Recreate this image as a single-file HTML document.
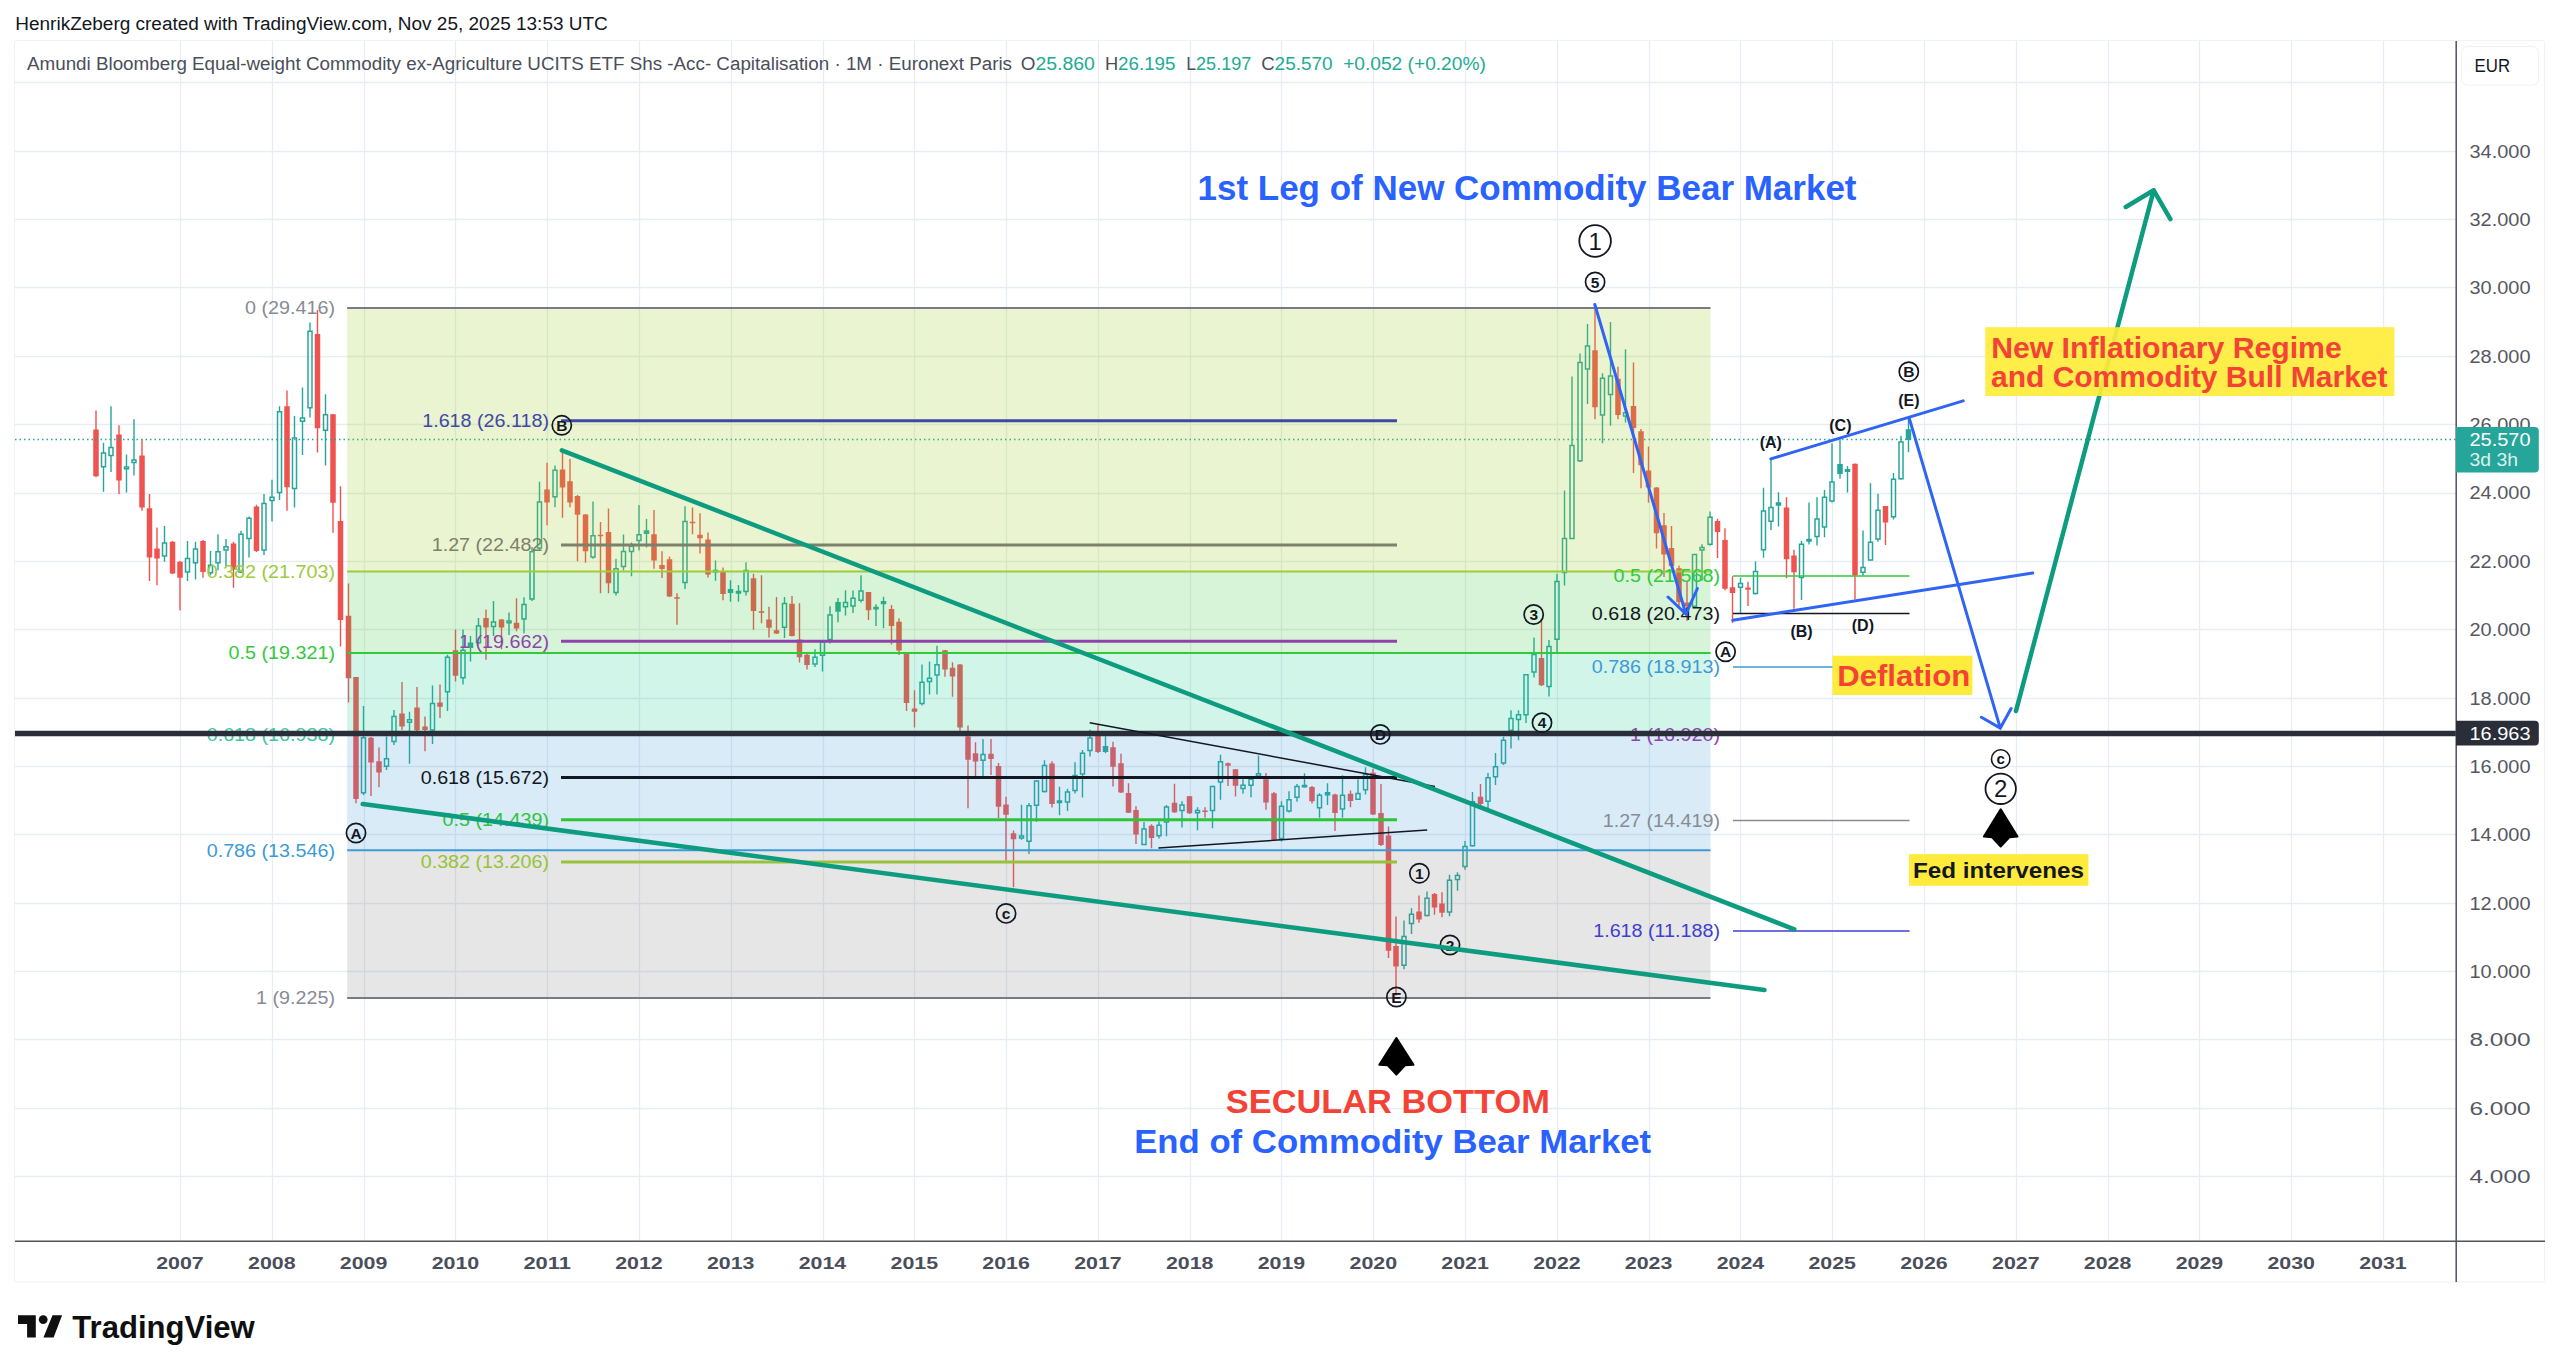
<!DOCTYPE html>
<html><head><meta charset="utf-8"><title>TradingView chart</title>
<style>
html,body{margin:0;padding:0;background:#ffffff;}
body{width:2560px;height:1372px;overflow:hidden;position:relative;font-family:"Liberation Sans", sans-serif;}
svg{position:absolute;left:0;top:0;display:block;}
text{font-family:"Liberation Sans", sans-serif;}
</style></head><body>
<svg width="2560" height="1372" viewBox="0 0 2560 1372">
<text x="15.3" y="30.0" font-size="18" fill="#131722" textLength="592.5" lengthAdjust="spacingAndGlyphs">HenrikZeberg created with TradingView.com, Nov 25, 2025 13:53 UTC</text>
<rect x="14.5" y="40.5" width="2530" height="1241.5" rx="2" fill="#ffffff" stroke="#f0f2f5" stroke-width="1"/>
<path d="M180.5 41V1241M272.5 41V1241M364.5 41V1241M455.5 41V1241M547.5 41V1241M639.5 41V1241M731.5 41V1241M823.5 41V1241M914.5 41V1241M1006.5 41V1241M1098.5 41V1241M1190.5 41V1241M1281.5 41V1241M1373.5 41V1241M1465.5 41V1241M1557.5 41V1241M1649.5 41V1241M1740.5 41V1241M1832.5 41V1241M1924.5 41V1241M2016.5 41V1241M2108.5 41V1241M2199.5 41V1241M2291.5 41V1241M2383.5 41V1241M15 82.5H2456M15 151.5H2456M15 219.5H2456M15 287.5H2456M15 356.5H2456M15 424.5H2456M15 493.5H2456M15 561.5H2456M15 629.5H2456M15 698.5H2456M15 766.5H2456M15 834.5H2456M15 903.5H2456M15 971.5H2456M15 1039.5H2456M15 1108.5H2456M15 1176.5H2456" stroke="#e6edf4" stroke-width="1.3" fill="none"/>
<path d="M96.0 410.5V477.2M119.0 425.2V493.9M142.0 439.5V510.7M149.5 494.0V581.1M157.0 527.5V585.3M172.5 541.0V574.0M180.0 561.0V610.5M203.0 540.0V577.8M233.5 541.7V587.8M256.5 504.8V552.0M287.0 390.4V510.8M317.5 309.9V452.6M333.0 414.0V532.8M340.5 486.2V646.5M348.5 583.6V702.5M356.0 677.0V803.3M371.0 737.0V795.9M379.0 747.6V787.2M402.0 682.0V730.0M417.0 687.0V732.0M425.0 716.6V751.3M440.0 684.4V717.9M455.5 629.4V681.5M486.0 609.5V659.7M501.5 619.0V649.3M516.5 598.2V631.3M547.0 462.7V525.2M562.5 451.4V517.7M570.0 459.0V507.2M577.5 495.0V561.2M585.5 513.9V562.8M600.5 522.0V593.2M608.5 508.6V593.2M654.0 510.1V568.7M662.0 551.2V578.0M669.5 556.4V597.0M677.0 593.2V624.7M692.5 507.4V534.3M700.0 513.3V553.5M708.0 532.5V577.4M723.0 567.6V600.2M753.5 573.7V629.8M761.5 575.2V623.2M769.0 606.8V637.4M776.5 597.1V634.0M792.0 596.0V636.5M799.5 603.3V662.4M807.0 654.0V669.6M868.5 592.0V620.1M891.5 604.9V644.6M899.0 618.3V655.1M906.5 653.0V711.1M914.5 690.3V727.4M945.0 650.0V676.8M952.5 662.2V696.8M960.0 664.0V730.7M968.0 725.4V808.2M975.5 742.3V776.0M991.0 738.9V774.9M998.5 763.1V818.1M1006.0 796.8V860.7M1013.5 830.4V887.2M1052.0 761.2V807.6M1098.0 724.8V753.0M1113.0 741.7V786.5M1121.0 753.7V793.0M1128.5 783.2V813.0M1136.0 806.2V843.9M1151.5 824.2V848.3M1174.5 783.8V813.0M1189.5 796.0V814.0M1205.0 807.3V817.7M1228.0 762.5V786.1M1235.5 769.0V796.5M1266.0 772.9V809.8M1274.0 792.0V840.0M1312.0 786.1V803.4M1335.0 793.7V831.0M1350.5 790.5V807.3M1373.0 768.8V815.0M1381.0 784.0V846.0M1388.5 826.5V958.0M1396.0 916.4V995.8M1419.0 895.5V922.8M1434.5 893.0V914.7M1442.0 892.3V917.2M1480.5 784.0V806.0M1541.5 621.0V686.0M1595.0 304.4V419.3M1618.0 366.7V419.3M1633.5 362.4V472.9M1641.0 429.1V488.2M1648.5 446.6V502.7M1656.5 487.0V548.6M1664.0 512.9V577.1M1671.5 526.0V567.0M1679.0 565.4V607.7M1687.0 581.4V620.8M1717.5 518.7V558.1M1725.0 528.2V590.2M1732.5 576.3V623.0M1748.0 581.8V605.9M1786.5 497.3V578.2M1794.0 549.7V608.8M1855.0 463.5V599.5M1885.5 506.0V545.0" stroke="#ef5350" stroke-width="1.4" fill="none"/>
<path d="M93.25 429.4h5.5v46.9h-5.5zM116.25 434.4h5.5v46.1h-5.5zM139.25 455.4h5.5v52.0h-5.5zM146.75 508.2h5.5v49.4h-5.5zM154.25 548.4h5.5v10.1h-5.5zM169.75 541.7h5.5v31.9h-5.5zM177.25 561.8h5.5v16.0h-5.5zM200.25 540.9h5.5v31.0h-5.5zM230.75 543.4h5.5v26.0h-5.5zM253.75 506.5h5.5v44.4h-5.5zM284.25 406.2h5.5v81.1h-5.5zM314.75 334.1h5.5v94.2h-5.5zM330.25 414.3h5.5v88.5h-5.5zM337.75 520.9h5.5v99.1h-5.5zM345.75 615.8h5.5v62.4h-5.5zM353.25 677.0h5.5v122.1h-5.5zM368.25 737.7h5.5v24.8h-5.5zM376.25 761.2h5.5v11.2h-5.5zM399.25 713.4h5.5v13.1h-5.5zM414.25 707.5h5.5v22.7h-5.5zM422.25 726.5h5.5v3.5h-5.5zM437.25 702.5h5.5v4.2h-5.5zM452.75 650.3h5.5v25.5h-5.5zM483.25 618.0h5.5v9.5h-5.5zM498.75 619.6h5.5v7.9h-5.5zM513.75 622.8h5.5v5.7h-5.5zM544.25 489.6h5.5v12.9h-5.5zM559.75 469.4h5.5v18.0h-5.5zM567.25 481.3h5.5v21.2h-5.5zM574.75 495.9h5.5v18.9h-5.5zM582.75 514.4h5.5v36.8h-5.5zM597.75 534.8h5.5v1.5h-5.5zM605.75 531.9h5.5v51.4h-5.5zM651.25 534.3h5.5v26.2h-5.5zM659.25 564.9h5.5v4.0h-5.5zM666.75 559.3h5.5v37.1h-5.5zM674.25 597.3h5.5v1.5h-5.5zM689.75 521.8h5.5v1.5h-5.5zM697.25 534.8h5.5v3.5h-5.5zM705.25 539.5h5.5v35.0h-5.5zM720.25 572.1h5.5v22.0h-5.5zM750.75 578.3h5.5v32.6h-5.5zM758.75 611.2h5.5v1.5h-5.5zM766.25 619.6h5.5v8.2h-5.5zM773.75 630.3h5.5v3.1h-5.5zM789.25 603.8h5.5v32.1h-5.5zM796.75 639.5h5.5v17.8h-5.5zM804.25 654.8h5.5v10.2h-5.5zM865.75 592.1h5.5v18.1h-5.5zM888.75 609.0h5.5v16.9h-5.5zM896.25 621.8h5.5v28.6h-5.5zM903.75 653.9h5.5v49.0h-5.5zM911.75 708.5h5.5v3.3h-5.5zM942.25 650.2h5.5v19.3h-5.5zM949.75 667.7h5.5v8.7h-5.5zM957.25 664.4h5.5v63.0h-5.5zM965.25 736.6h5.5v23.1h-5.5zM972.75 753.3h5.5v8.3h-5.5zM988.25 753.7h5.5v5.3h-5.5zM995.75 766.0h5.5v40.7h-5.5zM1003.25 804.4h5.5v10.3h-5.5zM1010.75 833.2h5.5v6.1h-5.5zM1049.25 763.5h5.5v40.4h-5.5zM1095.25 733.5h5.5v18.6h-5.5zM1110.25 747.2h5.5v19.6h-5.5zM1118.25 763.3h5.5v29.2h-5.5zM1125.75 793.1h5.5v19.6h-5.5zM1133.25 810.0h5.5v24.6h-5.5zM1148.75 825.8h5.5v12.1h-5.5zM1171.75 802.7h5.5v9.5h-5.5zM1186.75 796.3h5.5v17.0h-5.5zM1202.25 810.5h5.5v1.5h-5.5zM1225.25 763.3h5.5v2.4h-5.5zM1232.75 769.3h5.5v16.4h-5.5zM1263.25 779.3h5.5v23.3h-5.5zM1271.25 793.3h5.5v46.1h-5.5zM1309.25 786.9h5.5v14.4h-5.5zM1332.25 794.5h5.5v18.5h-5.5zM1347.75 793.7h5.5v7.2h-5.5zM1370.25 772.8h5.5v41.7h-5.5zM1378.25 812.9h5.5v32.1h-5.5zM1385.75 835.4h5.5v115.4h-5.5zM1393.25 945.9h5.5v20.5h-5.5zM1416.25 911.5h5.5v8.1h-5.5zM1431.75 893.9h5.5v13.6h-5.5zM1439.25 903.5h5.5v9.2h-5.5zM1477.75 796.8h5.5v7.3h-5.5zM1538.75 658.0h5.5v27.3h-5.5zM1592.25 350.3h5.5v56.9h-5.5zM1615.25 378.8h5.5v36.1h-5.5zM1630.75 406.1h5.5v21.9h-5.5zM1638.25 431.3h5.5v33.9h-5.5zM1645.75 470.6h5.5v16.8h-5.5zM1653.75 487.4h5.5v45.9h-5.5zM1661.25 525.3h5.5v29.2h-5.5zM1668.75 547.9h5.5v18.2h-5.5zM1676.25 568.3h5.5v33.6h-5.5zM1684.25 602.6h5.5v3.6h-5.5zM1714.75 520.9h5.5v11.0h-5.5zM1722.25 539.9h5.5v48.8h-5.5zM1729.75 587.3h5.5v5.8h-5.5zM1745.25 587.5h5.5v2.2h-5.5zM1783.75 507.5h5.5v51.7h-5.5zM1791.25 555.6h5.5v16.7h-5.5zM1852.25 463.8h5.5v111.7h-5.5zM1882.75 506.1h5.5v16.5h-5.5z" fill="#ef5350"/>
<path d="M103.5 442.8V452.9M103.5 466.8V491.8M111.0 406.3V447.5M111.0 455.4V472.1M126.5 454.5V467.1M126.5 468.8V492.6M134.0 419.3V460.0M134.0 462.4V475.5M164.5 526.1V542.9M164.5 556.0V561.8M187.5 540.9V558.5M187.5 571.9V581.1M195.5 541.7V549.0M195.5 562.7V579.4M210.5 551.0V565.2M210.5 572.7V575.2M218.0 534.2V551.8M218.0 562.7V570.2M226.0 538.9V546.7M226.0 550.1V566.0M241.0 530.8V534.2M241.0 571.9V572.7M249.0 516.6V518.2M249.0 538.4V557.6M264.0 494.0V503.5M264.0 550.1V555.1M272.0 479.7V497.2M272.0 500.4V521.6M279.5 406.2V411.8M279.5 492.4V500.0M294.5 416.0V438.0M294.5 488.6V507.6M302.5 387.6V417.9M302.5 421.3V455.0M310.0 322.4V331.3M310.0 407.7V417.5M325.5 394.2V414.7M325.5 430.2V465.5M363.5 706.0V737.7M363.5 792.7V795.0M386.5 736.4V758.7M386.5 766.2V769.9M394.0 710.0V716.6M394.0 741.4V745.0M409.5 711.7V719.8M409.5 722.3V763.7M432.5 685.6V703.5M432.5 730.0V743.9M447.5 654.7V657.2M447.5 691.8V711.0M463.0 629.4V650.3M463.0 677.7V684.4M470.5 636.0V661.6M478.5 618.0V626.0M478.5 642.7V644.6M493.5 601.0V621.9M493.5 626.6V636.0M509.0 612.4V621.0M509.0 622.8V635.1M524.0 597.2V604.4M524.0 619.0V633.2M532.0 547.0V551.8M532.0 599.1V601.0M539.5 481.7V502.1M539.5 548.0V550.8M555.0 465.6V470.3M555.0 496.8V507.2M593.0 501.6V535.8M593.0 557.0V558.8M616.0 558.8V568.7M616.0 592.6V595.5M623.5 534.6V551.4M623.5 566.6V570.4M631.5 542.4V546.3M631.5 551.4V576.3M639.0 505.1V534.8M639.0 540.4V550.6M646.5 519.1V547.4M685.0 506.3V521.4M685.0 582.4V589.1M715.5 560.5V570.4M715.5 571.0V580.8M730.5 580.3V601.7M738.5 584.9V591.5M738.5 592.2V601.7M746.0 562.2V570.4M746.0 591.5V595.6M784.5 597.1V603.5M784.5 627.2V638.0M815.0 649.2V657.3M815.0 664.0V667.0M822.5 640.5V642.0M822.5 655.3V671.6M830.0 606.3V615.0M830.0 639.5V643.6M838.0 597.9V622.3M845.5 590.3V602.6M845.5 606.7V615.4M853.0 590.6V598.3M853.0 606.1V613.1M861.0 575.2V590.9M861.0 600.3V602.6M876.0 604.3V625.9M883.5 596.8V628.3M922.0 664.4V682.3M922.0 703.4V705.6M929.5 661.5V678.3M929.5 681.5V694.6M937.0 645.8V664.8M937.0 675.0V694.6M983.0 738.9V754.6M983.0 760.3V776.0M1021.5 804.8V836.1M1021.5 838.0V839.8M1029.0 802.9V805.8M1029.0 841.2V854.0M1036.5 780.2V781.1M1036.5 805.2V821.9M1044.5 760.3V765.4M1044.5 791.5V792.5M1059.5 786.8V801.0M1059.5 802.5V815.2M1067.5 788.7V791.9M1067.5 802.0V810.9M1075.0 762.2V775.4M1075.0 790.6V793.4M1082.5 749.9V753.2M1082.5 773.9V797.4M1090.0 729.7V737.9M1090.0 750.4V756.4M1105.5 736.2V753.2M1144.0 822.0V829.1M1144.0 844.4V845.0M1159.0 821.5V825.3M1159.0 835.7V838.4M1166.5 805.1V807.0M1166.5 822.0V836.2M1182.0 801.3V805.1M1182.0 810.5V827.5M1197.5 807.3V810.5M1197.5 812.7V830.2M1212.5 785.7V786.5M1212.5 810.6V828.2M1220.5 754.8V761.7M1220.5 782.1V799.7M1243.0 779.3V785.3M1243.0 788.5V793.7M1251.0 778.5V779.3M1251.0 785.3V797.3M1258.5 755.6V773.7M1258.5 776.1V777.0M1281.5 801.3V806.2M1281.5 838.6V841.4M1289.0 791.3V799.7M1289.0 811.0V812.6M1297.0 784.1V786.4M1297.0 797.3V801.7M1304.5 773.3V787.5M1319.5 793.3V795.3M1319.5 807.8V817.8M1327.5 783.3V805.0M1342.5 775.2V795.3M1342.5 808.9V817.7M1358.0 779.2V793.4M1358.0 799.3V800.0M1365.5 767.2V774.4M1365.5 789.7V794.5M1404.0 920.4V936.4M1404.0 965.3V969.3M1411.5 908.3V914.3M1411.5 923.6V934.0M1427.0 891.5V898.2M1427.0 915.5V916.3M1449.5 874.7V880.3M1449.5 912.0V916.3M1457.5 872.3V875.5M1457.5 879.5V890.7M1465.0 841.0V846.6M1465.0 866.6V869.8M1472.5 792.0V801.7M1472.5 845.8V846.5M1488.0 773.1V777.7M1488.0 801.3V810.0M1495.5 753.1V766.7M1495.5 776.8V785.0M1503.5 736.7V740.3M1503.5 763.1V765.0M1511.0 710.3V718.5M1511.0 730.3V748.5M1518.5 710.3V714.8M1518.5 719.4V740.3M1526.0 674.0V674.8M1526.0 714.8V723.0M1534.0 637.4V654.4M1534.0 672.0V677.5M1549.0 640.1V646.5M1549.0 686.6V696.6M1557.0 573.7V581.5M1557.0 639.2V653.8M1564.5 490.4V538.5M1564.5 572.4V585.6M1572.0 376.6V445.5M1572.0 538.5V539.0M1580.0 353.6V362.4M1580.0 460.8V461.9M1587.5 324.1V346.0M1587.5 368.9V403.9M1602.5 373.3V378.3M1602.5 414.9V443.3M1610.5 321.9V376.1M1610.5 394.5V425.8M1625.5 349.2V412.7M1625.5 416.0V422.5M1694.5 554.0V554.5M1694.5 606.2V607.0M1702.0 544.3V547.6M1702.0 550.1V580.7M1710.0 511.5V517.3M1710.0 544.3V545.7M1740.5 577.8V583.6M1740.5 587.3V613.5M1755.5 561.4V571.6M1755.5 593.5V594.5M1763.5 487.8V511.1M1763.5 549.7V557.8M1771.0 458.6V507.5M1771.0 521.3V530.1M1778.5 492.2V526.4M1801.5 541.0V544.2M1801.5 577.4V600.0M1809.0 502.4V539.5M1809.0 541.0V544.6M1817.0 497.3V519.1M1817.0 536.6V545.4M1824.5 490.0V497.3M1824.5 527.1V537.3M1832.0 443.3V482.0M1832.0 501.1V502.4M1840.0 439.2V478.7M1847.5 466.0V469.7M1847.5 470.5V492.6M1863.0 530.6V567.5M1863.0 572.3V575.5M1870.5 483.3V542.3M1870.5 559.9V560.5M1878.0 493.8V510.3M1878.0 539.1V541.8M1893.5 472.9V479.3M1893.5 516.7V519.4M1901.0 436.0V442.0M1901.0 478.8V479.5M1908.5 418.2V452.3" stroke="#26a69a" stroke-width="1.4" fill="none"/>
<path d="M101.50 452.9h4v13.9h-4zM109.00 447.5h4v7.9h-4zM124.50 467.1h4v1.7h-4zM132.00 460.0h4v2.4h-4zM162.50 542.9h4v13.1h-4zM185.50 558.5h4v13.4h-4zM193.50 549.0h4v13.7h-4zM208.50 565.2h4v7.5h-4zM216.00 551.8h4v10.9h-4zM224.00 546.7h4v3.4h-4zM239.00 534.2h4v37.7h-4zM247.00 518.2h4v20.2h-4zM262.00 503.5h4v46.6h-4zM270.00 497.2h4v3.2h-4zM277.50 411.8h4v80.6h-4zM292.50 438.0h4v50.6h-4zM300.50 417.9h4v3.4h-4zM308.00 331.3h4v76.4h-4zM323.50 414.7h4v15.5h-4zM361.50 737.7h4v55.0h-4zM384.50 758.7h4v7.5h-4zM392.00 716.6h4v24.8h-4zM407.50 719.8h4v2.5h-4zM430.50 703.5h4v26.5h-4zM445.50 657.2h4v34.6h-4zM461.00 650.3h4v27.4h-4zM476.50 626.0h4v16.7h-4zM491.50 621.9h4v4.7h-4zM507.00 621.0h4v1.8h-4zM522.00 604.4h4v14.6h-4zM530.00 551.8h4v47.3h-4zM537.50 502.1h4v45.9h-4zM553.00 470.3h4v26.5h-4zM591.00 535.8h4v21.2h-4zM614.00 568.7h4v23.9h-4zM621.50 551.4h4v15.2h-4zM629.50 546.3h4v5.1h-4zM637.00 534.8h4v5.6h-4zM683.00 521.4h4v61.0h-4zM713.50 570.4h4v1.5h-4zM736.50 591.5h4v1.5h-4zM744.00 570.4h4v21.1h-4zM782.50 603.5h4v23.7h-4zM813.00 657.3h4v6.7h-4zM820.50 642.0h4v13.3h-4zM828.00 615.0h4v24.5h-4zM843.50 602.6h4v4.1h-4zM851.00 598.3h4v7.8h-4zM859.00 590.9h4v9.4h-4zM920.00 682.3h4v21.1h-4zM927.50 678.3h4v3.2h-4zM935.00 664.8h4v10.2h-4zM981.00 754.6h4v5.7h-4zM1019.50 836.1h4v1.9h-4zM1027.00 805.8h4v35.4h-4zM1034.50 781.1h4v24.1h-4zM1042.50 765.4h4v26.1h-4zM1057.50 801.0h4v1.5h-4zM1065.50 791.9h4v10.1h-4zM1073.00 775.4h4v15.2h-4zM1080.50 753.2h4v20.7h-4zM1088.00 737.9h4v12.5h-4zM1142.00 829.1h4v15.3h-4zM1157.00 825.3h4v10.4h-4zM1164.50 807.0h4v15.0h-4zM1180.00 805.1h4v5.4h-4zM1195.50 810.5h4v2.2h-4zM1210.50 786.5h4v24.1h-4zM1218.50 761.7h4v20.4h-4zM1241.00 785.3h4v3.2h-4zM1249.00 779.3h4v6.0h-4zM1256.50 773.7h4v2.4h-4zM1279.50 806.2h4v32.4h-4zM1287.00 799.7h4v11.3h-4zM1295.00 786.4h4v10.9h-4zM1317.50 795.3h4v12.5h-4zM1340.50 795.3h4v13.6h-4zM1356.00 793.4h4v5.9h-4zM1363.50 774.4h4v15.3h-4zM1402.00 936.4h4v28.9h-4zM1409.50 914.3h4v9.3h-4zM1425.00 898.2h4v17.3h-4zM1447.50 880.3h4v31.7h-4zM1455.50 875.5h4v4.0h-4zM1463.00 846.6h4v20.0h-4zM1470.50 801.7h4v44.1h-4zM1486.00 777.7h4v23.6h-4zM1493.50 766.7h4v10.1h-4zM1501.50 740.3h4v22.8h-4zM1509.00 718.5h4v11.8h-4zM1516.50 714.8h4v4.6h-4zM1524.00 674.8h4v40.0h-4zM1532.00 654.4h4v17.6h-4zM1547.00 646.5h4v40.1h-4zM1555.00 581.5h4v57.7h-4zM1562.50 538.5h4v33.9h-4zM1570.00 445.5h4v93.0h-4zM1578.00 362.4h4v98.4h-4zM1585.50 346.0h4v22.9h-4zM1600.50 378.3h4v36.6h-4zM1608.50 376.1h4v18.4h-4zM1623.50 412.7h4v3.3h-4zM1692.50 554.5h4v51.7h-4zM1700.00 547.6h4v2.5h-4zM1708.00 517.3h4v27.0h-4zM1738.50 583.6h4v3.7h-4zM1753.50 571.6h4v21.9h-4zM1761.50 511.1h4v38.6h-4zM1769.00 507.5h4v13.8h-4zM1799.50 544.2h4v33.2h-4zM1807.00 539.5h4v1.5h-4zM1815.00 519.1h4v17.5h-4zM1822.50 497.3h4v29.8h-4zM1830.00 482.0h4v19.1h-4zM1845.50 469.7h4v1.5h-4zM1861.00 567.5h4v4.8h-4zM1868.50 542.3h4v17.6h-4zM1876.00 510.3h4v28.8h-4zM1891.50 479.3h4v37.4h-4zM1899.00 442.0h4v36.8h-4z" fill="none" stroke="#26a69a" stroke-width="1.5"/>
<path d="M467.75 642.6h5.5v5.3h-5.5zM643.75 530.3h5.5v3.6h-5.5zM727.75 589.0h5.5v4.1h-5.5zM835.25 602.0h5.5v9.8h-5.5zM873.25 606.8h5.5v2.7h-5.5zM880.75 600.9h5.5v3.4h-5.5zM1102.75 746.1h5.5v5.9h-5.5zM1301.75 784.8h5.5v2.6h-5.5zM1324.75 792.0h5.5v3.4h-5.5zM1775.75 502.3h5.5v3.5h-5.5zM1837.25 463.9h5.5v10.2h-5.5zM1905.75 429.2h5.5v10.9h-5.5z" fill="#26a69a"/>
<line x1="15" y1="439.4" x2="2456" y2="439.4" stroke="#22ab94" stroke-width="1.5" stroke-dasharray="1.5 3"/>
<rect x="347.2" y="307.9" width="1363.3" height="263.6" fill="rgba(160,205,40,0.22)"/>
<rect x="347.2" y="571.5" width="1363.3" height="81.4" fill="rgba(60,200,60,0.2)"/>
<rect x="347.2" y="652.9" width="1363.3" height="81.4" fill="rgba(30,205,150,0.2)"/>
<rect x="347.2" y="734.4" width="1363.3" height="115.9" fill="rgba(61,154,214,0.2)"/>
<rect x="347.2" y="850.3" width="1363.3" height="147.7" fill="rgba(128,128,128,0.2)"/>
<line x1="347.2" y1="307.9" x2="1710.5" y2="307.9" stroke="#787b86" stroke-width="2"/>
<line x1="347.2" y1="571.5" x2="1710.5" y2="571.5" stroke="#9ccb3b" stroke-width="2"/>
<line x1="347.2" y1="652.9" x2="1710.5" y2="652.9" stroke="#33c93a" stroke-width="2"/>
<line x1="347.2" y1="734.4" x2="1710.5" y2="734.4" stroke="#28b88f" stroke-width="2"/>
<line x1="347.2" y1="850.3" x2="1710.5" y2="850.3" stroke="#3d9ad6" stroke-width="2"/>
<line x1="347.2" y1="997.9" x2="1710.5" y2="997.9" stroke="#787b86" stroke-width="2"/>
<text x="335.0" y="314.2" font-size="18" fill="#888b94" text-anchor="end" textLength="89.9" lengthAdjust="spacingAndGlyphs">0 (29.416)</text>
<text x="335.0" y="577.8" font-size="18" fill="#9ccb3b" text-anchor="end" textLength="128.3" lengthAdjust="spacingAndGlyphs">0.382 (21.703)</text>
<text x="335.0" y="659.2" font-size="18" fill="#33c93a" text-anchor="end" textLength="106.4" lengthAdjust="spacingAndGlyphs">0.5 (19.321)</text>
<text x="335.0" y="740.7" font-size="18" fill="#3cc8a0" text-anchor="end" textLength="128.3" lengthAdjust="spacingAndGlyphs">0.618 (16.938)</text>
<text x="335.0" y="856.6" font-size="18" fill="#3d9ad6" text-anchor="end" textLength="128.3" lengthAdjust="spacingAndGlyphs">0.786 (13.546)</text>
<text x="335.0" y="1004.2" font-size="18" fill="#888b94" text-anchor="end" textLength="78.9" lengthAdjust="spacingAndGlyphs">1 (9.225)</text>
<line x1="561" y1="420.7" x2="1397" y2="420.7" stroke="#3f48a8" stroke-width="3"/>
<line x1="561" y1="544.9" x2="1397" y2="544.9" stroke="#7d806a" stroke-width="3"/>
<line x1="561" y1="641.3" x2="1397" y2="641.3" stroke="#8e44ad" stroke-width="3"/>
<line x1="561" y1="777.6" x2="1397" y2="777.6" stroke="#131722" stroke-width="3"/>
<line x1="561" y1="819.8" x2="1397" y2="819.8" stroke="#2ec43a" stroke-width="3"/>
<line x1="561" y1="861.9" x2="1397" y2="861.9" stroke="#98c23a" stroke-width="3"/>
<text x="549.0" y="427.0" font-size="18" fill="#3f48a8" text-anchor="end" textLength="126.8" lengthAdjust="spacingAndGlyphs">1.618 (26.118)</text>
<text x="549.0" y="551.2" font-size="18" fill="#7d806a" text-anchor="end" textLength="117.3" lengthAdjust="spacingAndGlyphs">1.27 (22.482)</text>
<text x="549.0" y="647.6" font-size="18" fill="#8e44ad" text-anchor="end" textLength="89.9" lengthAdjust="spacingAndGlyphs">1 (19.662)</text>
<text x="549.0" y="783.9" font-size="18" fill="#131722" text-anchor="end" textLength="128.3" lengthAdjust="spacingAndGlyphs">0.618 (15.672)</text>
<text x="549.0" y="826.1" font-size="18" fill="#2ec43a" text-anchor="end" textLength="106.4" lengthAdjust="spacingAndGlyphs">0.5 (14.439)</text>
<text x="549.0" y="868.2" font-size="18" fill="#98c23a" text-anchor="end" textLength="128.3" lengthAdjust="spacingAndGlyphs">0.382 (13.206)</text>
<line x1="1733" y1="576.1" x2="1909.5" y2="576.1" stroke="#33c93a" stroke-width="1.5"/>
<line x1="1733" y1="613.6" x2="1909.5" y2="613.6" stroke="#131722" stroke-width="1.5"/>
<line x1="1733" y1="666.9" x2="1909.5" y2="666.9" stroke="#3d9ad6" stroke-width="1.5"/>
<line x1="1733" y1="735.0" x2="1909.5" y2="735.0" stroke="#8e44ad" stroke-width="1.5"/>
<line x1="1733" y1="820.4" x2="1909.5" y2="820.4" stroke="#888b94" stroke-width="1.5"/>
<line x1="1733" y1="930.9" x2="1909.5" y2="930.9" stroke="#3f3fd0" stroke-width="1.5"/>
<text x="1720.0" y="582.4" font-size="18" fill="#33c93a" text-anchor="end" textLength="106.4" lengthAdjust="spacingAndGlyphs">0.5 (21.568)</text>
<text x="1720.0" y="619.9" font-size="18" fill="#131722" text-anchor="end" textLength="128.3" lengthAdjust="spacingAndGlyphs">0.618 (20.473)</text>
<text x="1720.0" y="673.2" font-size="18" fill="#3d9ad6" text-anchor="end" textLength="128.3" lengthAdjust="spacingAndGlyphs">0.786 (18.913)</text>
<text x="1720.0" y="741.3" font-size="18" fill="#8e44ad" text-anchor="end" textLength="89.9" lengthAdjust="spacingAndGlyphs">1 (16.920)</text>
<text x="1720.0" y="826.7" font-size="18" fill="#888b94" text-anchor="end" textLength="117.3" lengthAdjust="spacingAndGlyphs">1.27 (14.419)</text>
<text x="1720.0" y="937.2" font-size="18" fill="#3f3fd0" text-anchor="end" textLength="126.8" lengthAdjust="spacingAndGlyphs">1.618 (11.188)</text>
<line x1="15" y1="733.5" x2="2456" y2="733.5" stroke="#2a2e39" stroke-width="5.6"/>
<circle cx="356" cy="833" r="9.6" fill="none" stroke="#131722" stroke-width="1.7"/>
<text x="356.0" y="838.6" font-size="15.5" fill="#131722" font-weight="bold" text-anchor="middle">A</text>
<circle cx="561.8" cy="425.3" r="9.6" fill="none" stroke="#131722" stroke-width="1.7"/>
<text x="561.8" y="430.9" font-size="15.5" fill="#131722" font-weight="bold" text-anchor="middle">B</text>
<circle cx="1006.1" cy="913.4" r="9.6" fill="none" stroke="#131722" stroke-width="1.7"/>
<text x="1006.1" y="919.0" font-size="15.5" fill="#131722" font-weight="bold" text-anchor="middle">c</text>
<circle cx="1380.3" cy="734.4" r="9.6" fill="none" stroke="#131722" stroke-width="1.7"/>
<text x="1380.3" y="740.0" font-size="15.5" fill="#131722" font-weight="bold" text-anchor="middle">D</text>
<circle cx="1396.4" cy="997" r="9.6" fill="none" stroke="#131722" stroke-width="1.7"/>
<text x="1396.4" y="1002.6" font-size="15.5" fill="#131722" font-weight="bold" text-anchor="middle">E</text>
<circle cx="1725.6" cy="651.8" r="9.6" fill="none" stroke="#131722" stroke-width="1.7"/>
<text x="1725.6" y="657.4" font-size="15.5" fill="#131722" font-weight="bold" text-anchor="middle">A</text>
<circle cx="1908.8" cy="371.7" r="9.6" fill="none" stroke="#131722" stroke-width="1.7"/>
<text x="1908.8" y="377.3" font-size="15.5" fill="#131722" font-weight="bold" text-anchor="middle">B</text>
<circle cx="1419.4" cy="873.2" r="9.6" fill="none" stroke="#131722" stroke-width="1.7"/>
<text x="1419.4" y="878.8" font-size="15.5" fill="#131722" font-weight="bold" text-anchor="middle">1</text>
<circle cx="1450" cy="945" r="9.6" fill="none" stroke="#131722" stroke-width="1.7"/>
<text x="1450.0" y="950.6" font-size="15.5" fill="#131722" font-weight="bold" text-anchor="middle">2</text>
<circle cx="1533.7" cy="614.5" r="9.6" fill="none" stroke="#131722" stroke-width="1.7"/>
<text x="1533.7" y="620.1" font-size="15.5" fill="#131722" font-weight="bold" text-anchor="middle">3</text>
<circle cx="1542" cy="722.7" r="9.6" fill="none" stroke="#131722" stroke-width="1.7"/>
<text x="1542.0" y="728.3" font-size="15.5" fill="#131722" font-weight="bold" text-anchor="middle">4</text>
<circle cx="1595.1" cy="282" r="9.6" fill="none" stroke="#131722" stroke-width="1.7"/>
<text x="1595.1" y="287.6" font-size="15.5" fill="#131722" font-weight="bold" text-anchor="middle">5</text>
<circle cx="2000.7" cy="759" r="9.2" fill="none" stroke="#131722" stroke-width="1.6"/>
<text x="2000.7" y="764.4" font-size="15" fill="#131722" font-weight="bold" text-anchor="middle">c</text>
<circle cx="1595.1" cy="241" r="15.8" fill="none" stroke="#131722" stroke-width="1.8"/>
<text x="1595.1" y="249.6" font-size="24" fill="#131722" text-anchor="middle">1</text>
<circle cx="2000.7" cy="788.8" r="15.2" fill="none" stroke="#131722" stroke-width="1.8"/>
<text x="2000.7" y="797.4" font-size="24" fill="#131722" text-anchor="middle">2</text>
<line x1="1089.7" y1="722.7" x2="1435" y2="786.4" stroke="#131722" stroke-width="1.5"/>
<line x1="1158.4" y1="848.1" x2="1427.2" y2="830" stroke="#131722" stroke-width="1.5"/>
<line x1="561.8" y1="450.3" x2="1794.3" y2="929.3" stroke="#0e9c80" stroke-width="4.5" stroke-linecap="round"/>
<line x1="362.7" y1="804.1" x2="1764.5" y2="990" stroke="#0e9c80" stroke-width="4.5" stroke-linecap="round"/>
<g stroke="#2f64f5" stroke-width="3" stroke-linecap="round" fill="none">
<path d="M1594.8 304.5L1685.9 614M1668 597L1685.9 614L1697.4 588.5"/>
<path d="M1770.8 458.9L1963.2 400.9M1732.8 620.2L2032.7 573M1909.1 417.7L2000.3 728.1M1981.4 717.3L2000.3 728.1L2011.1 708.6"/>
</g>
<path d="M2016 711L2153.7 190.3M2125.8 207L2153.7 190.3L2170.4 219.1" stroke="#0e9c80" stroke-width="4.5" stroke-linecap="round" stroke-linejoin="round" fill="none"/>
<text x="1770.8" y="447.6" font-size="16" fill="#131722" font-weight="bold" text-anchor="middle">(A)</text>
<text x="1840.4" y="431.1" font-size="16" fill="#131722" font-weight="bold" text-anchor="middle">(C)</text>
<text x="1908.8" y="405.6" font-size="16" fill="#131722" font-weight="bold" text-anchor="middle">(E)</text>
<text x="1801.6" y="637.1" font-size="16" fill="#131722" font-weight="bold" text-anchor="middle">(B)</text>
<text x="1862.9" y="630.8" font-size="16" fill="#131722" font-weight="bold" text-anchor="middle">(D)</text>
<path d="M1396.4 1038L1413.5 1064.8L1405 1065.3L1396.4 1074.6L1387.8 1065.3L1379.3 1064.8Z" fill="#000" stroke="#000" stroke-width="2" stroke-linejoin="round"/>
<path d="M2000.7 809.4L2017.5 836.6L2009.3 837.2L2000.7 846.5L1992.1 837.2L1983.9 836.6Z" fill="#000" stroke="#000" stroke-width="2" stroke-linejoin="round"/>
<rect x="1985.2" y="327.2" width="409.2" height="68.8" fill="#ffeb3b" fill-opacity="0.92"/>
<text x="1991.2" y="358.0" font-size="29" fill="#f44336" font-weight="bold" textLength="350.5" lengthAdjust="spacingAndGlyphs">New Inflationary Regime</text>
<text x="1991.0" y="387.4" font-size="29" fill="#f44336" font-weight="bold" textLength="396.5" lengthAdjust="spacingAndGlyphs">and Commodity Bull Market</text>
<rect x="1832.5" y="655.7" width="139.9" height="39.3" fill="#ffeb3b"/>
<text x="1837.2" y="686.3" font-size="29.5" fill="#f44336" font-weight="bold" textLength="133.0" lengthAdjust="spacingAndGlyphs">Deflation</text>
<rect x="1909" y="854.1" width="179.4" height="31.7" fill="#ffeb3b"/>
<text x="1913.0" y="877.8" font-size="22.5" fill="#131722" font-weight="bold" textLength="171.0" lengthAdjust="spacingAndGlyphs">Fed intervenes</text>
<text x="1197.5" y="200.0" font-size="35.5" fill="#2962ff" font-weight="bold" textLength="659.0" lengthAdjust="spacingAndGlyphs">1st Leg of New Commodity Bear Market</text>
<text x="1225.8" y="1112.5" font-size="33" fill="#f44336" font-weight="bold" textLength="324.0" lengthAdjust="spacingAndGlyphs">SECULAR BOTTOM</text>
<text x="1134.2" y="1152.7" font-size="33.5" fill="#2962ff" font-weight="bold" textLength="517.0" lengthAdjust="spacingAndGlyphs">End of Commodity Bear Market</text>
<text x="27.0" y="70.3" font-size="18" fill="#4a4e5a" textLength="985.0" lengthAdjust="spacingAndGlyphs">Amundi Bloomberg Equal-weight Commodity ex-Agriculture UCITS ETF Shs -Acc- Capitalisation · 1M · Euronext Paris</text>
<text x="1020.7" y="70.3" font-size="18" fill="#4a4e5a" textLength="14.7" lengthAdjust="spacingAndGlyphs">O</text>
<text x="1035.4" y="70.3" font-size="18" fill="#22ab94" textLength="59.4" lengthAdjust="spacingAndGlyphs">25.860</text>
<text x="1104.9" y="70.3" font-size="18" fill="#4a4e5a" textLength="13.2" lengthAdjust="spacingAndGlyphs">H</text>
<text x="1118.1" y="70.3" font-size="18" fill="#22ab94" textLength="57.3" lengthAdjust="spacingAndGlyphs">26.195</text>
<text x="1186.2" y="70.3" font-size="18" fill="#4a4e5a" textLength="9.8" lengthAdjust="spacingAndGlyphs">L</text>
<text x="1196.0" y="70.3" font-size="18" fill="#22ab94" textLength="55.4" lengthAdjust="spacingAndGlyphs">25.197</text>
<text x="1261.2" y="70.3" font-size="18" fill="#4a4e5a" textLength="13.4" lengthAdjust="spacingAndGlyphs">C</text>
<text x="1274.6" y="70.3" font-size="18" fill="#22ab94" textLength="58.1" lengthAdjust="spacingAndGlyphs">25.570</text>
<text x="1343.2" y="70.3" font-size="18" fill="#22ab94" textLength="142.6" lengthAdjust="spacingAndGlyphs">+0.052 (+0.20%)</text>
<line x1="2456.2" y1="41" x2="2456.2" y2="1282" stroke="#50535e" stroke-width="1.5"/>
<line x1="15" y1="1241.2" x2="2545" y2="1241.2" stroke="#50535e" stroke-width="1.5"/>
<text x="2469.5" y="157.7" font-size="18" fill="#555863" textLength="61.0" lengthAdjust="spacingAndGlyphs">34.000</text>
<text x="2469.5" y="226.0" font-size="18" fill="#555863" textLength="61.0" lengthAdjust="spacingAndGlyphs">32.000</text>
<text x="2469.5" y="294.4" font-size="18" fill="#555863" textLength="61.0" lengthAdjust="spacingAndGlyphs">30.000</text>
<text x="2469.5" y="362.7" font-size="18" fill="#555863" textLength="61.0" lengthAdjust="spacingAndGlyphs">28.000</text>
<text x="2469.5" y="431.1" font-size="18" fill="#555863" textLength="61.0" lengthAdjust="spacingAndGlyphs">26.000</text>
<text x="2469.5" y="499.4" font-size="18" fill="#555863" textLength="61.0" lengthAdjust="spacingAndGlyphs">24.000</text>
<text x="2469.5" y="567.8" font-size="18" fill="#555863" textLength="61.0" lengthAdjust="spacingAndGlyphs">22.000</text>
<text x="2469.5" y="636.1" font-size="18" fill="#555863" textLength="61.0" lengthAdjust="spacingAndGlyphs">20.000</text>
<text x="2469.5" y="704.5" font-size="18" fill="#555863" textLength="61.0" lengthAdjust="spacingAndGlyphs">18.000</text>
<text x="2469.5" y="772.8" font-size="18" fill="#555863" textLength="61.0" lengthAdjust="spacingAndGlyphs">16.000</text>
<text x="2469.5" y="841.2" font-size="18" fill="#555863" textLength="61.0" lengthAdjust="spacingAndGlyphs">14.000</text>
<text x="2469.5" y="909.5" font-size="18" fill="#555863" textLength="61.0" lengthAdjust="spacingAndGlyphs">12.000</text>
<text x="2469.5" y="977.9" font-size="18" fill="#555863" textLength="61.0" lengthAdjust="spacingAndGlyphs">10.000</text>
<text x="2469.5" y="1046.2" font-size="18" fill="#555863" textLength="61.0" lengthAdjust="spacingAndGlyphs">8.000</text>
<text x="2469.5" y="1114.5" font-size="18" fill="#555863" textLength="61.0" lengthAdjust="spacingAndGlyphs">6.000</text>
<text x="2469.5" y="1182.9" font-size="18" fill="#555863" textLength="61.0" lengthAdjust="spacingAndGlyphs">4.000</text>
<rect x="2461.5" y="46.5" width="77" height="38.5" rx="6" fill="#ffffff" stroke="#eef0f3" stroke-width="1"/>
<text x="2474.6" y="72.0" font-size="17.5" fill="#131722" textLength="35.5" lengthAdjust="spacingAndGlyphs">EUR</text>
<path d="M2456 427h78.8a4 4 0 0 1 4 4v37.6a4 4 0 0 1 -4 4h-78.8z" fill="#26a69a"/>
<text x="2469.5" y="445.9" font-size="18" fill="#ffffff" textLength="61.0" lengthAdjust="spacingAndGlyphs">25.570</text>
<text x="2469.5" y="466.0" font-size="18" fill="#ffffff" textLength="48.5" lengthAdjust="spacingAndGlyphs" fill-opacity="0.85">3d 3h</text>
<path d="M2456 720.7h78.8a4 4 0 0 1 4 4v16.9a4 4 0 0 1 -4 4h-78.8z" fill="#2a2e39"/>
<text x="2469.5" y="739.6" font-size="18" fill="#ffffff" textLength="61.0" lengthAdjust="spacingAndGlyphs">16.963</text>
<text x="180.0" y="1268.5" font-size="16.5" fill="#4a4e5a" font-weight="bold" text-anchor="middle" textLength="47.5" lengthAdjust="spacingAndGlyphs">2007</text>
<text x="271.8" y="1268.5" font-size="16.5" fill="#4a4e5a" font-weight="bold" text-anchor="middle" textLength="47.5" lengthAdjust="spacingAndGlyphs">2008</text>
<text x="363.6" y="1268.5" font-size="16.5" fill="#4a4e5a" font-weight="bold" text-anchor="middle" textLength="47.5" lengthAdjust="spacingAndGlyphs">2009</text>
<text x="455.4" y="1268.5" font-size="16.5" fill="#4a4e5a" font-weight="bold" text-anchor="middle" textLength="47.5" lengthAdjust="spacingAndGlyphs">2010</text>
<text x="547.2" y="1268.5" font-size="16.5" fill="#4a4e5a" font-weight="bold" text-anchor="middle" textLength="47.5" lengthAdjust="spacingAndGlyphs">2011</text>
<text x="639.0" y="1268.5" font-size="16.5" fill="#4a4e5a" font-weight="bold" text-anchor="middle" textLength="47.5" lengthAdjust="spacingAndGlyphs">2012</text>
<text x="730.7" y="1268.5" font-size="16.5" fill="#4a4e5a" font-weight="bold" text-anchor="middle" textLength="47.5" lengthAdjust="spacingAndGlyphs">2013</text>
<text x="822.5" y="1268.5" font-size="16.5" fill="#4a4e5a" font-weight="bold" text-anchor="middle" textLength="47.5" lengthAdjust="spacingAndGlyphs">2014</text>
<text x="914.3" y="1268.5" font-size="16.5" fill="#4a4e5a" font-weight="bold" text-anchor="middle" textLength="47.5" lengthAdjust="spacingAndGlyphs">2015</text>
<text x="1006.1" y="1268.5" font-size="16.5" fill="#4a4e5a" font-weight="bold" text-anchor="middle" textLength="47.5" lengthAdjust="spacingAndGlyphs">2016</text>
<text x="1097.9" y="1268.5" font-size="16.5" fill="#4a4e5a" font-weight="bold" text-anchor="middle" textLength="47.5" lengthAdjust="spacingAndGlyphs">2017</text>
<text x="1189.7" y="1268.5" font-size="16.5" fill="#4a4e5a" font-weight="bold" text-anchor="middle" textLength="47.5" lengthAdjust="spacingAndGlyphs">2018</text>
<text x="1281.5" y="1268.5" font-size="16.5" fill="#4a4e5a" font-weight="bold" text-anchor="middle" textLength="47.5" lengthAdjust="spacingAndGlyphs">2019</text>
<text x="1373.3" y="1268.5" font-size="16.5" fill="#4a4e5a" font-weight="bold" text-anchor="middle" textLength="47.5" lengthAdjust="spacingAndGlyphs">2020</text>
<text x="1465.1" y="1268.5" font-size="16.5" fill="#4a4e5a" font-weight="bold" text-anchor="middle" textLength="47.5" lengthAdjust="spacingAndGlyphs">2021</text>
<text x="1556.9" y="1268.5" font-size="16.5" fill="#4a4e5a" font-weight="bold" text-anchor="middle" textLength="47.5" lengthAdjust="spacingAndGlyphs">2022</text>
<text x="1648.6" y="1268.5" font-size="16.5" fill="#4a4e5a" font-weight="bold" text-anchor="middle" textLength="47.5" lengthAdjust="spacingAndGlyphs">2023</text>
<text x="1740.4" y="1268.5" font-size="16.5" fill="#4a4e5a" font-weight="bold" text-anchor="middle" textLength="47.5" lengthAdjust="spacingAndGlyphs">2024</text>
<text x="1832.2" y="1268.5" font-size="16.5" fill="#4a4e5a" font-weight="bold" text-anchor="middle" textLength="47.5" lengthAdjust="spacingAndGlyphs">2025</text>
<text x="1924.0" y="1268.5" font-size="16.5" fill="#4a4e5a" font-weight="bold" text-anchor="middle" textLength="47.5" lengthAdjust="spacingAndGlyphs">2026</text>
<text x="2015.8" y="1268.5" font-size="16.5" fill="#4a4e5a" font-weight="bold" text-anchor="middle" textLength="47.5" lengthAdjust="spacingAndGlyphs">2027</text>
<text x="2107.6" y="1268.5" font-size="16.5" fill="#4a4e5a" font-weight="bold" text-anchor="middle" textLength="47.5" lengthAdjust="spacingAndGlyphs">2028</text>
<text x="2199.4" y="1268.5" font-size="16.5" fill="#4a4e5a" font-weight="bold" text-anchor="middle" textLength="47.5" lengthAdjust="spacingAndGlyphs">2029</text>
<text x="2291.2" y="1268.5" font-size="16.5" fill="#4a4e5a" font-weight="bold" text-anchor="middle" textLength="47.5" lengthAdjust="spacingAndGlyphs">2030</text>
<text x="2383.0" y="1268.5" font-size="16.5" fill="#4a4e5a" font-weight="bold" text-anchor="middle" textLength="47.5" lengthAdjust="spacingAndGlyphs">2031</text>
<g fill="#0f0f0f">
<path d="M18 1315.2H35.8V1337.6H27.1V1323.9H18Z"/>
<circle cx="43.2" cy="1319.6" r="4.4"/>
<path d="M52.5 1315.2H62.1L53.6 1337.6H43.45Z"/>
</g>
<text x="72.3" y="1337.6" font-size="30.5" fill="#0f0f0f" font-weight="bold" textLength="182.5" lengthAdjust="spacingAndGlyphs">TradingView</text>
</svg></body></html>
